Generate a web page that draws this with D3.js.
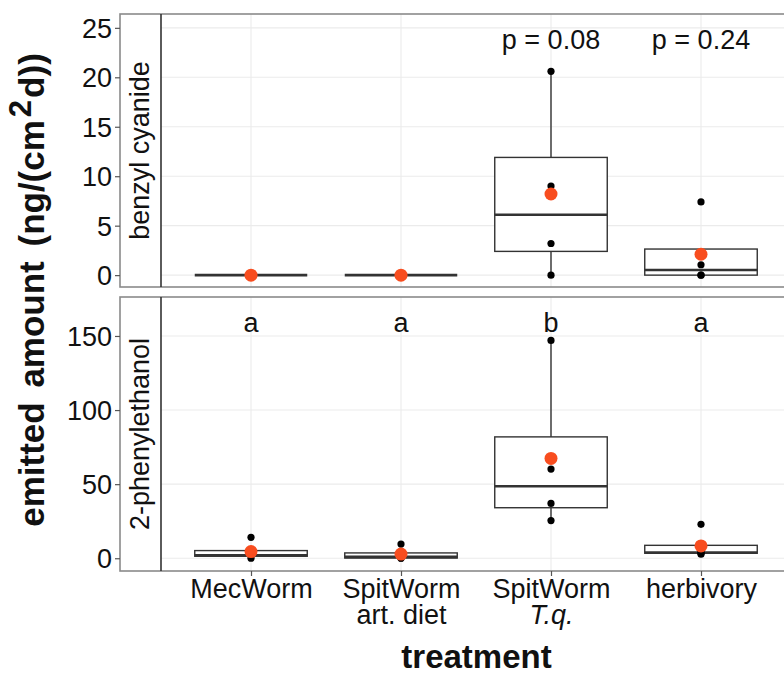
<!DOCTYPE html>
<html>
<head>
<meta charset="utf-8">
<script src="https://d3js.org/d3.v7.min.js"></script>
<style>
  body { margin: 0; background: #fff; }
  text { font-family: "Liberation Sans", Arial, sans-serif; fill: #111; }
  .grid line { stroke: #ebebeb; stroke-width: 1.1px; }
  .box { fill: #fff; stroke: #333; stroke-width: 1.4px; }
  .whisker { stroke: #333; stroke-width: 1.4px; }
  .median { stroke: #333; stroke-width: 2.6px; }
  .axis line { stroke: #555; stroke-width: 1.2px; }
  .axis path { display: none; }
</style>
</head>
<body>
<script>
// treatments (x categories), two label lines each
const treatments = ["MecWorm", "SpitWorm art. diet", "SpitWorm T.q.", "herbivory"];
const tickLine1 = ["MecWorm", "SpitWorm", "SpitWorm", "herbivory"];
const tickLine2 = ["", "art. diet", "T.q.", ""];
const tickItalic2 = [false, false, true, false];

// individual replicates per treatment
const benzylCyanide = [
  [0, 0, 0, 0],
  [0, 0, 0, 0],
  [0, 3.2, 9.0, 20.6],
  [0, 0, 1.05, 7.4]
];
const phenylethanol = [
  [0, 1.8, 2.2, 14.1],
  [0, 0.2, 1.6, 9.6],
  [25.4, 37, 60.2, 147],
  [2.7, 3.6, 4.0, 22.9]
];

const benzylTicks = [0, 5, 10, 15, 20, 25];
const phenylTicks = [0, 50, 100, 150];
const benzylLabels = ["", "", "p = 0.08", "p = 0.24"];
const phenylLabels = ["a", "a", "b", "a"];

const W = 784, H = 675;
const stripL = 120, plotL = 161, plotR = 791;

const svg = d3.select("body").append("svg")
  .attr("width", W).attr("height", H);

// shared x scale (ggplot style discrete positions 1..4, expanded by 0.6)
const x = d3.scaleLinear().domain([0.4, 4.6]).range([plotL, plotR]);
const halfBox = 0.375;

const panels = [
  { name: "benzyl cyanide", data: benzylCyanide, ticks: benzylTicks, labels: benzylLabels,
    top: 14, bottom: 287, domain: [-1.2, 26.4], labelY: 23.8 },
  { name: "2-phenylethanol", data: phenylethanol, ticks: phenylTicks, labels: phenylLabels,
    top: 297, bottom: 571, domain: [-8.6, 176.3], labelY: 158.5 }
];

panels.forEach(p => {
  const y = d3.scaleLinear().domain(p.domain).range([p.bottom, p.top]);
  const g = svg.append("g");

  g.append("rect")
    .attr("x", plotL).attr("y", p.top)
    .attr("width", plotR - plotL).attr("height", p.bottom - p.top)
    .attr("fill", "#fff");

  // grid
  const grid = g.append("g").attr("class", "grid");
  grid.selectAll(".gy").data(p.ticks).join("line")
    .attr("x1", plotL).attr("x2", plotR)
    .attr("y1", d => y(d)).attr("y2", d => y(d));
  grid.selectAll(".gx").data(treatments).join("line")
    .attr("x1", (d, i) => x(i + 1)).attr("x2", (d, i) => x(i + 1))
    .attr("y1", p.top).attr("y2", p.bottom);

  // boxplots
  p.data.forEach((vals, i) => {
    const s = vals.slice().sort(d3.ascending);
    const q1 = d3.quantile(s, 0.25), med = d3.quantile(s, 0.5), q3 = d3.quantile(s, 0.75);
    const iqr = q3 - q1;
    const lo = d3.min(s.filter(v => v >= q1 - 1.5 * iqr));
    const hi = d3.max(s.filter(v => v <= q3 + 1.5 * iqr));
    const cx = x(i + 1), x0 = x(i + 1 - halfBox), x1 = x(i + 1 + halfBox);

    g.append("line").attr("class", "whisker")
      .attr("x1", cx).attr("x2", cx).attr("y1", y(q3)).attr("y2", y(hi));
    g.append("line").attr("class", "whisker")
      .attr("x1", cx).attr("x2", cx).attr("y1", y(q1)).attr("y2", y(lo));
    g.append("rect").attr("class", "box")
      .attr("x", x0).attr("y", y(q3))
      .attr("width", x1 - x0).attr("height", Math.max(0, y(q1) - y(q3)));
    g.append("line").attr("class", "median")
      .attr("x1", x0).attr("x2", x1).attr("y1", y(med)).attr("y2", y(med));

    g.selectAll(null).data(vals).join("circle")
      .attr("cx", cx).attr("cy", d => y(d)).attr("r", 3.6).attr("fill", "#000");

    g.append("circle")
      .attr("cx", cx).attr("cy", y(d3.mean(vals))).attr("r", 6.5)
      .attr("fill", "#f84d1f");
  });

  // annotations
  g.selectAll(".ann").data(p.labels).join("text")
    .attr("x", (d, i) => x(i + 1)).attr("y", y(p.labelY) + 9)
    .attr("text-anchor", "middle").attr("font-size", 27)
    .text(d => d);

  // panel + strip border
  g.append("rect")
    .attr("x", stripL).attr("y", p.top)
    .attr("width", plotR - stripL).attr("height", p.bottom - p.top)
    .attr("fill", "none").attr("stroke", "#8a8a8a").attr("stroke-width", 1.6);
  g.append("line")
    .attr("x1", plotL).attr("x2", plotL).attr("y1", p.top).attr("y2", p.bottom)
    .attr("stroke", "#333").attr("stroke-width", 1.6);

  // strip label
  g.append("text")
    .attr("transform", `translate(149,${(p.top + p.bottom) / 2}) rotate(-90)`)
    .attr("text-anchor", "middle").attr("font-size", 27)
    .text(p.name);

  // y axis
  const ax = g.append("g").attr("class", "axis")
    .attr("transform", `translate(${stripL},0)`)
    .call(d3.axisLeft(y).tickValues(p.ticks).tickSize(5).tickPadding(3));
  ax.selectAll("text").attr("font-size", 27).attr("dy", "0.35em").attr("fill", "#111");
});

// x axis
const xa = svg.append("g").attr("class", "axis")
  .attr("transform", "translate(0,571)")
  .call(d3.axisBottom(x).tickValues([1, 2, 3, 4]).tickSize(5).tickFormat(""));
xa.selectAll(".tick").each(function(d, i) {
  const t = d3.select(this).append("text")
    .attr("text-anchor", "middle").attr("font-size", 27).attr("fill", "#111");
  t.append("tspan").attr("x", 0).attr("y", 27).text(tickLine1[i]);
  if (tickLine2[i]) {
    t.append("tspan").attr("x", 0).attr("y", 53)
      .attr("font-style", tickItalic2[i] ? "italic" : "normal")
      .text(tickLine2[i]);
  }
});

// axis titles
svg.append("text")
  .attr("x", (plotL + 784) / 2 + 4).attr("y", 668)
  .attr("text-anchor", "middle").attr("font-size", 33).attr("font-weight", "bold")
  .text("treatment");

const yl = svg.append("text")
  .attr("transform", "translate(44,290) rotate(-90)")
  .attr("text-anchor", "middle").attr("font-size", 35).attr("font-weight", "bold")
  .attr("word-spacing", 5);
yl.append("tspan").text("emitted amount (ng/(cm");
yl.append("tspan").attr("font-size", 31).attr("dx", 3).attr("dy", -13).text("2");
yl.append("tspan").attr("dx", 2).attr("dy", 13).text("d))");
</script>
</body>
</html>
